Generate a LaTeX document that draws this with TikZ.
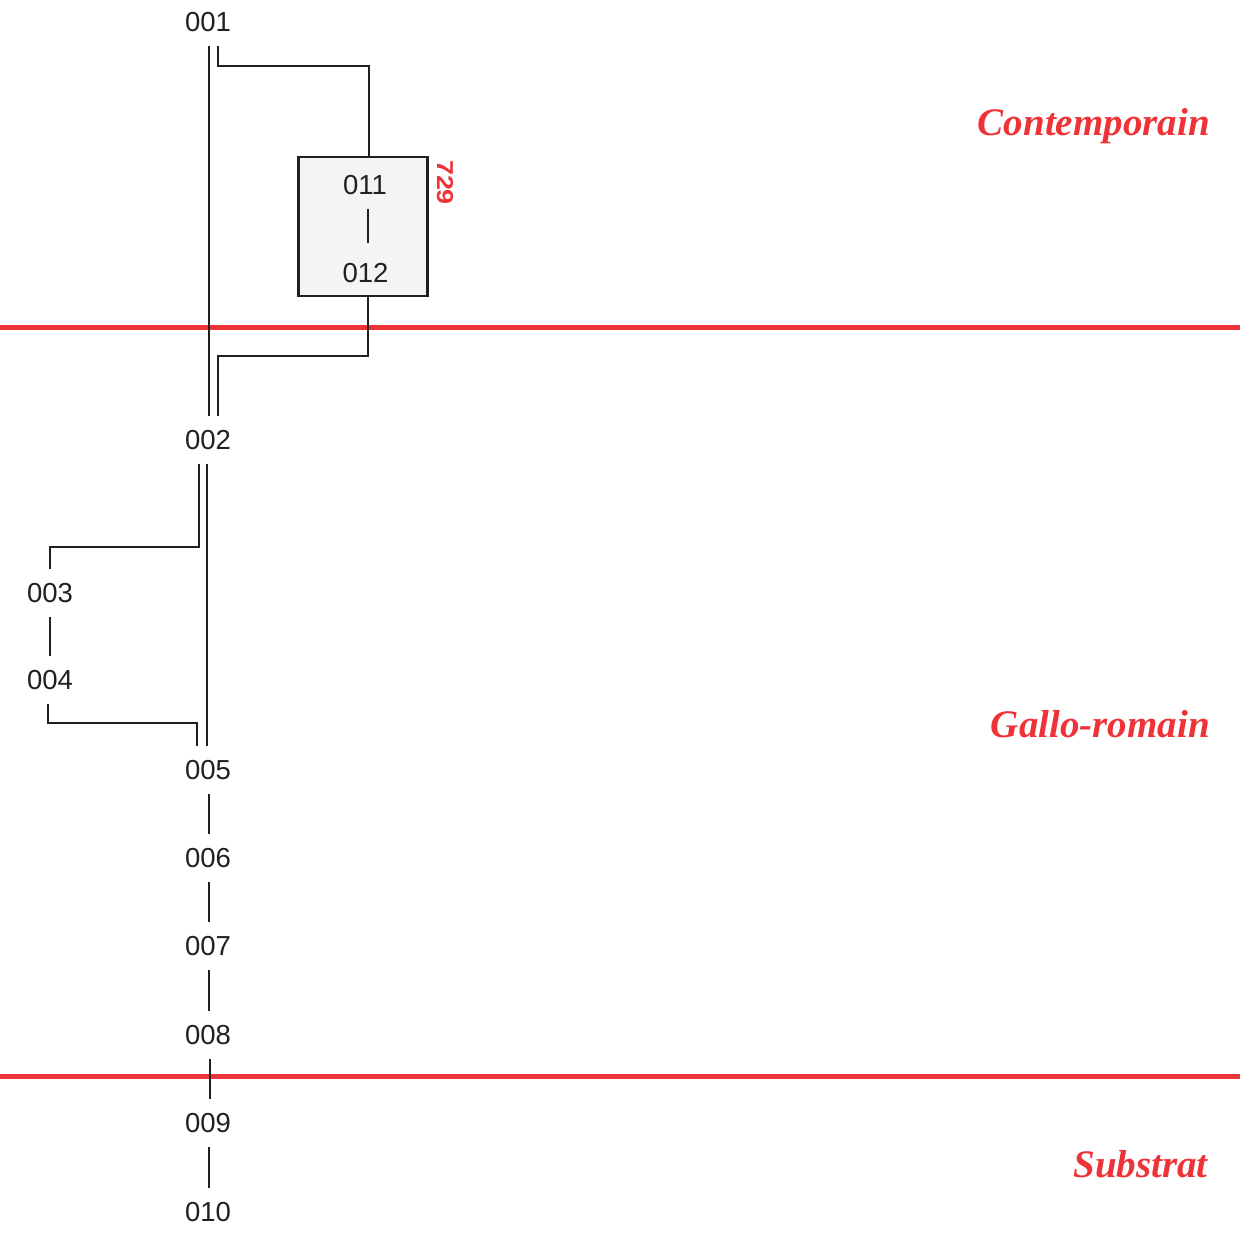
\documentclass[tikz,border=0pt]{standalone}
\usepackage{fontspec}
\usepackage{graphicx}
\newfontfamily\numfont{Liberation Sans}
\newfontfamily\perfont{Liberation Serif}
\definecolor{ink}{HTML}{231F20}
\definecolor{redline}{HTML}{EE3338}
\definecolor{boxfill}{HTML}{F4F4F4}
\begin{document}
\begin{tikzpicture}[x=1pt,y=-1pt,
  us/.style={font=\numfont\fontsize{27.5}{30}\selectfont, text=ink, inner xsep=2pt, inner ysep=14pt},
  conn/.style={draw=ink, line width=2.3pt},
  period/.style={font=\perfont\bfseries\itshape\fontsize{39}{42}\selectfont, text=redline, anchor=base east, inner sep=0pt},
  phase/.style={draw=redline, line width=5pt},
  groupbox/.style={draw=ink, fill=boxfill, line width=2.3pt, minimum width=129pt, minimum height=139pt, inner sep=0pt}]
\useasboundingbox (0,0) rectangle (1240,1236);

% phase boundaries
\draw[phase] (0,327) -- (1240,327);
\draw[phase] (0,1076) -- (1240,1076);

% period labels
\node[period] (pc) at (1210,136) {Contemporain};
\node[period] (pg) at (1210,737.3) {Gallo-romain};
\node[period] (ps) at (1208,1177.3) {Substrat};

% group box
\node[groupbox] (b729) at (363,226.3) {};
\node[font=\numfont\bfseries\fontsize{23}{25}\selectfont, text=redline, rotate=-90, inner sep=0pt] (l729) at (445,182.5) {\scalebox{1.17}[1]{729}};

% units
\node[us] (n001) at (208,22) {001};
\node[us] (n011) at (365,185) {011};
\node[us] (n012) at (365.5,273) {012};
\node[us] (n002) at (208,440) {002};
\node[us] (n003) at (50,593) {003};
\node[us] (n004) at (50,680) {004};
\node[us] (n005) at (208,770) {005};
\node[us] (n006) at (208,858) {006};
\node[us] (n007) at (208,946) {007};
\node[us] (n008) at (208,1035) {008};
\node[us] (n009) at (208,1123) {009};
\node[us] (n010) at (208,1212) {010};

% connectors
\draw[conn] ([xshift=1]n001.south) -- ([xshift=1]n002.north);
\draw[conn] ([xshift=10]n001.south) -- ++(0,20) -| ([xshift=6]b729.north);
\draw[conn, shorten >=6pt] ([xshift=3]n011.south) -- ([xshift=2.5]n012.north);
\draw[conn] ([xshift=5]b729.south) -- ++(0,59) -| ([xshift=10]n002.north);
\draw[conn] ([xshift=-9]n002.south) -- ++(0,83) -| (n003.north);
\draw[conn] ([xshift=-1]n002.south) -- ([xshift=-1]n005.north);
\draw[conn] (n003.south) -- (n004.north);
\draw[conn] ([xshift=-2]n004.south) -- ++(0,19) -| ([xshift=-11]n005.north);
\draw[conn] ([xshift=1]n005.south) -- ([xshift=1]n006.north);
\draw[conn] ([xshift=1]n006.south) -- ([xshift=1]n007.north);
\draw[conn] ([xshift=1]n007.south) -- ([xshift=1]n008.north);
\draw[conn] ([xshift=2]n008.south) -- ([xshift=2]n009.north);
\draw[conn] ([xshift=1]n009.south) -- ([xshift=1]n010.north);
\end{tikzpicture}
\end{document}
